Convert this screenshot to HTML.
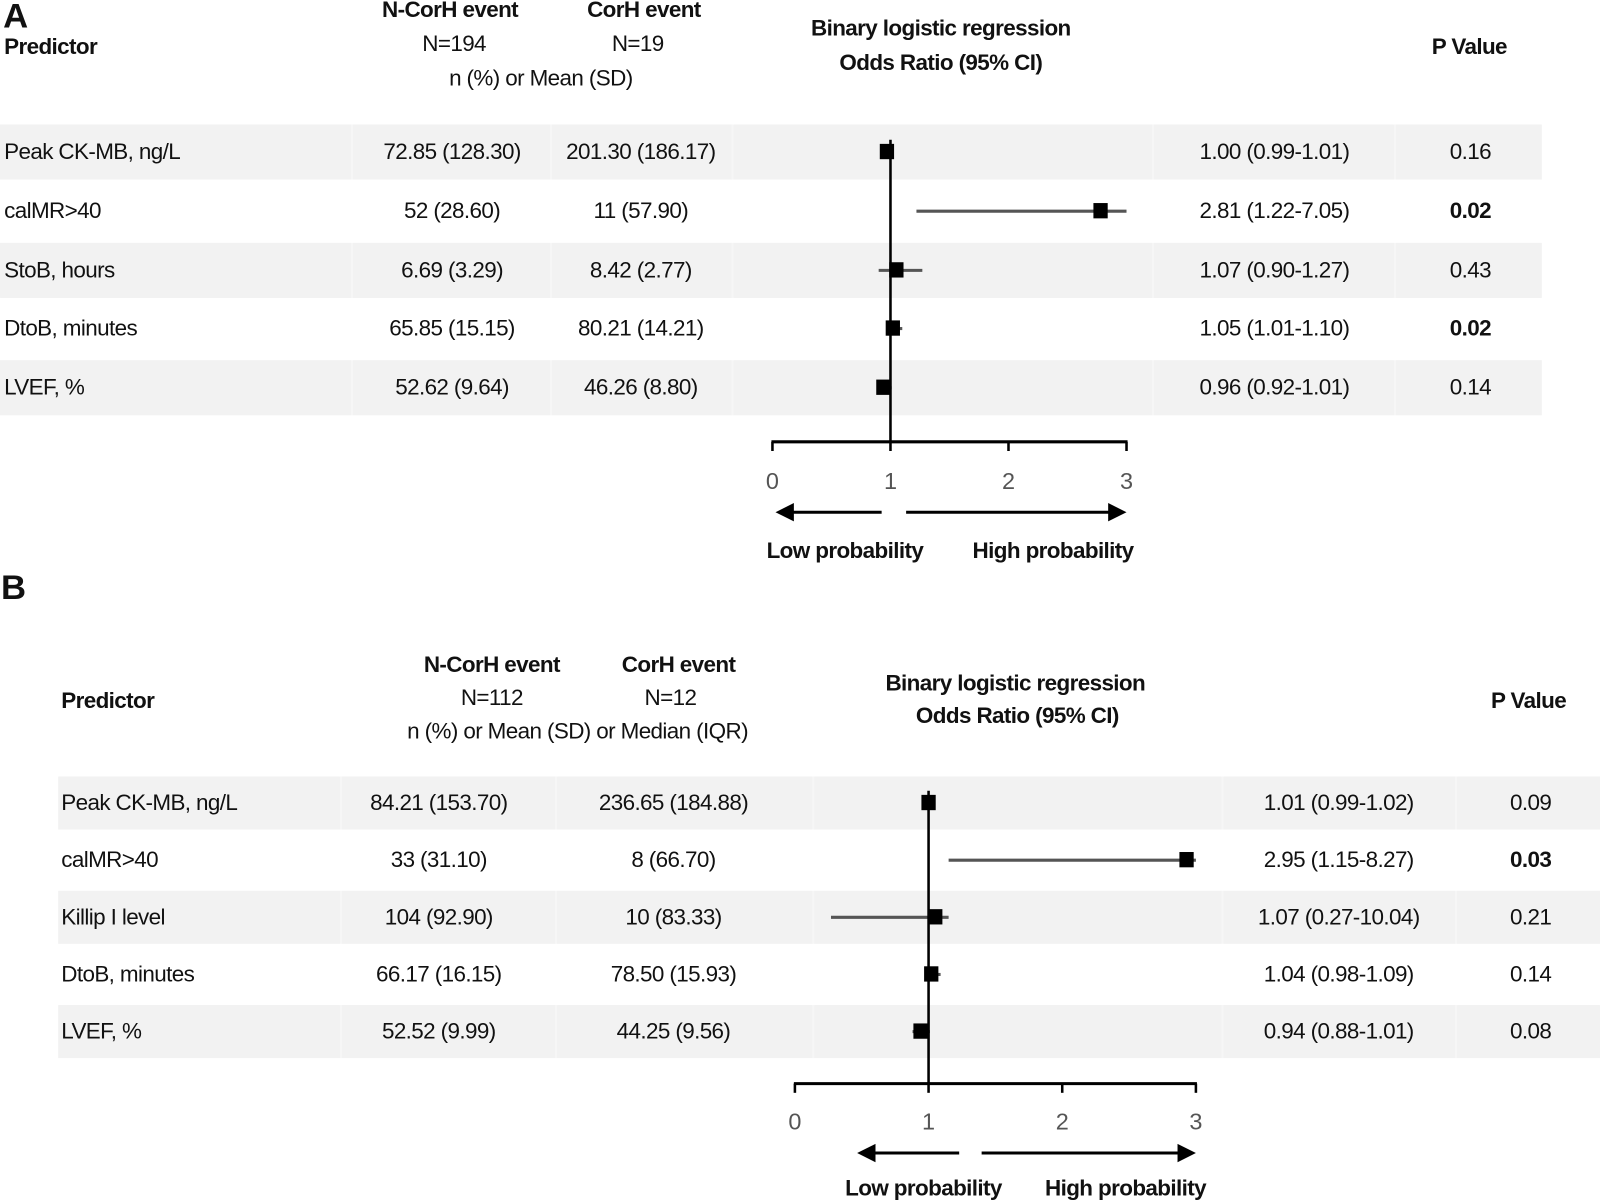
<!DOCTYPE html>
<html><head><meta charset="utf-8"><style>
html,body{margin:0;padding:0;background:#fff}
svg{display:block}
text{font-family:"Liberation Sans",Arial,sans-serif;font-size:22px;fill:#111;letter-spacing:-0.6px}
.b{font-weight:bold}
.tick{fill:#555;font-size:23px;letter-spacing:0}
</style></head><body>
<svg id="chart" width="1600" height="1202" viewBox="0 0 1568 1178" xmlns="http://www.w3.org/2000/svg"></svg>
<script>
const predictorsA = ["Peak CK-MB, ng/L","calMR>40","StoB, hours","DtoB, minutes","LVEF, %"];
const ncorhA = ["72.85 (128.30)","52 (28.60)","6.69 (3.29)","65.85 (15.15)","52.62 (9.64)"];
const corhA = ["201.30 (186.17)","11 (57.90)","8.42 (2.77)","80.21 (14.21)","46.26 (8.80)"];
const orA = [0.97,2.78,1.05,1.02,0.94];
const ciLowA = [0.99,1.22,0.90,1.01,0.92];
const ciHighA = [1.01,3.0,1.27,1.10,1.01];
const orTextA = ["1.00 (0.99-1.01)","2.81 (1.22-7.05)","1.07 (0.90-1.27)","1.05 (1.01-1.10)","0.96 (0.92-1.01)"];
const pA = ["0.16","0.02","0.43","0.02","0.14"];
const pBoldA = [false,true,false,true,false];

const predictorsB = ["Peak CK-MB, ng/L","calMR>40","Killip I level","DtoB, minutes","LVEF, %"];
const ncorhB = ["84.21 (153.70)","33 (31.10)","104 (92.90)","66.17 (16.15)","52.52 (9.99)"];
const corhB = ["236.65 (184.88)","8 (66.70)","10 (83.33)","78.50 (15.93)","44.25 (9.56)"];
const orB = [1.00,2.93,1.05,1.02,0.94];
const ciLowB = [0.99,1.15,0.27,0.98,0.88];
const ciHighB = [1.02,3.0,1.15,1.09,1.01];
const orTextB = ["1.01 (0.99-1.02)","2.95 (1.15-8.27)","1.07 (0.27-10.04)","1.04 (0.98-1.09)","0.94 (0.88-1.01)"];
const pB = ["0.09","0.03","0.21","0.14","0.08"];
const pBoldB = [false,true,false,false,false];

const ticks = ["0","1","2","3"];

const svg = document.getElementById('chart');
const NS = "http://www.w3.org/2000/svg";
function mk(tag, attrs, parent){
  const e = document.createElementNS(NS, tag);
  for (const k in attrs) e.setAttribute(k, attrs[k]);
  (parent||svg).appendChild(e);
  return e;
}
function txt(s, x, y, anchor, cls, parent){
  const t = mk('text', {x:x, y:y+1, 'text-anchor':anchor||'start', 'dominant-baseline':'middle'}, parent);
  if (cls) t.setAttribute('class', cls);
  t.textContent = s;
  return t;
}

function panel(cfg){
  const g = mk('g', {});
  
  
  const L = txt(cfg.letter, cfg.letterX, cfg.letterY, 'start', 'b', g);
  L.setAttribute('style','font-size:34px');
  
  
  cfg.headers.forEach(h => {
    const t = txt(h[0], h[1], h[2], h[3]||'middle', h[4]?'b':'', g);
    
    
  });
  for (let i=0;i<cfg.rows.length;i++){
    if (i%2===0){
      const r = mk('rect', {x:cfg.bandX0, y:cfg.rows[i]-cfg.bandH/2, width:cfg.bandX1-cfg.bandX0, height:cfg.bandH, fill:'#f2f2f2'}, g);
      
      
    }
  }
  cfg.gaps.forEach(x => { mk('rect',{x:x-1,y:cfg.rows[0]-cfg.bandH/2,width:2,height:cfg.rows[4]-cfg.rows[0]+cfg.bandH,fill:'#fff',opacity:0.35},g); });
  const xs = v => cfg.ax0 + (cfg.ax3 - cfg.ax0) * v / 3;
  for (let i=0;i<cfg.pred.length;i++){
    const y = cfg.rows[i];
    let t = txt(cfg.pred[i], cfg.predX, y, 'start', '', g);
    
    
    t = txt(cfg.c1[i], cfg.c1X, y, 'middle', '', g);
    
    
    t = txt(cfg.c2[i], cfg.c2X, y, 'middle', '', g);
    
    
    t = txt(cfg.ortext[i], cfg.orX, y, 'middle', '', g);
    
    
    t = txt(cfg.p[i], cfg.pX, y, 'middle', cfg.pb[i]?'b':'', g);
    
    
  }
  for (let i=0;i<cfg.or.length;i++){
    const y = cfg.rows[i];
    const l = mk('line',{x1:xs(cfg.lo[i]),x2:xs(cfg.hi[i]),y1:y,y2:y,stroke:'#555','stroke-width':3},g);
    
    
  }
  const ref = mk('line',{x1:xs(1),x2:xs(1),y1:cfg.refTop,y2:cfg.axY,stroke:'#000','stroke-width':2.5},g);
  
  
  for (let i=0;i<cfg.or.length;i++){
    const y = cfg.rows[i];
    const s = mk('rect',{x:xs(cfg.or[i])-7,y:y-8,width:14,height:15,fill:'#000'},g);
    
    
  }
  const ax = mk('line',{x1:xs(0)-1,x2:xs(3)+1,y1:cfg.axY,y2:cfg.axY,stroke:'#000','stroke-width':3},g);
  
  
  ticks.forEach((tk,i) => {
    const v = parseFloat(tk);
    mk('line',{x1:xs(v),x2:xs(v),y1:cfg.axY,y2:cfg.axY+9,stroke:'#000','stroke-width':2.5},g);
    const t = txt(tk, xs(v), cfg.tickY, 'middle', 'tick', g);
    
    
  });
  const ay = cfg.arrY;
  mk('line',{x1:cfg.arrL[0],x2:cfg.arrL[1]+12,y1:ay,y2:ay,stroke:'#000','stroke-width':3},g);
  const pl = mk('polygon',{points:`${cfg.arrL[1]},${ay} ${cfg.arrL[1]+18},${ay-9} ${cfg.arrL[1]+18},${ay+9}`,fill:'#000'},g);
  
  
  mk('line',{x1:cfg.arrR[0],x2:cfg.arrR[1]-12,y1:ay,y2:ay,stroke:'#000','stroke-width':3},g);
  const pr = mk('polygon',{points:`${cfg.arrR[1]},${ay} ${cfg.arrR[1]-18},${ay-9} ${cfg.arrR[1]-18},${ay+9}`,fill:'#000'},g);
  
  
  let t = txt('Low probability', cfg.lowX, cfg.lblY, 'middle', 'b', g);
  
  
  t = txt('High probability', cfg.highX, cfg.lblY, 'middle', 'b', g);
  
  
}

panel({
  name:'panel-a', letter:'A', letterX:3, letterY:17,
  headers:[
    ['Predictor',4,46,'start',true],
    ['N-CorH event',441,10,'middle',true],
    ['CorH event',631,10,'middle',true],
    ['N=194',445,43],['N=19',625,43],
    ['n (%) or Mean (SD)',530,77],
    ['Binary logistic regression',922,28,'middle',true],
    ['Odds Ratio (95% CI)',922,62,'middle',true],
    ['P Value',1440,46,'middle',true]
  ],
  rows:[149,207,265,322,380], bandH:54, bandX0:0, bandX1:1511,
  gaps:[345,540,718,1130,1367],
  pred:predictorsA, c1:ncorhA, c2:corhA, ortext:orTextA, p:pA, pb:pBoldA,
  or:orA, lo:ciLowA, hi:ciHighA,
  predX:4, c1X:443, c2X:628, orX:1249, pX:1441,
  ax0:757, ax3:1104, axY:433, refTop:137, tickY:472,
  arrY:502, arrL:[864,760], arrR:[888,1104], lowX:828, highX:1032, lblY:540
});
panel({
  name:'panel-b', letter:'B', letterX:1, letterY:577,
  headers:[
    ['Predictor',60,687,'start',true],
    ['N-CorH event',482,652,'middle',true],
    ['CorH event',665,652,'middle',true],
    ['N=112',482,684],['N=12',657,684],
    ['n (%) or Mean (SD) or Median (IQR)',566,717],
    ['Binary logistic regression',995,670,'middle',true],
    ['Odds Ratio (95% CI)',997,702,'middle',true],
    ['P Value',1498,687,'middle',true]
  ],
  rows:[787,843,899,955,1011], bandH:52, bandX0:57, bandX1:1568,
  gaps:[334,545,797,1198,1427],
  pred:predictorsB, c1:ncorhB, c2:corhB, ortext:orTextB, p:pB, pb:pBoldB,
  or:orB, lo:ciLowB, hi:ciHighB,
  predX:60, c1X:430, c2X:660, orX:1312, pX:1500,
  ax0:779, ax3:1172, axY:1062, refTop:775, tickY:1100,
  arrY:1130, arrL:[940,840], arrR:[962,1172], lowX:905, highX:1103, lblY:1165
});
</script>
</body></html>
